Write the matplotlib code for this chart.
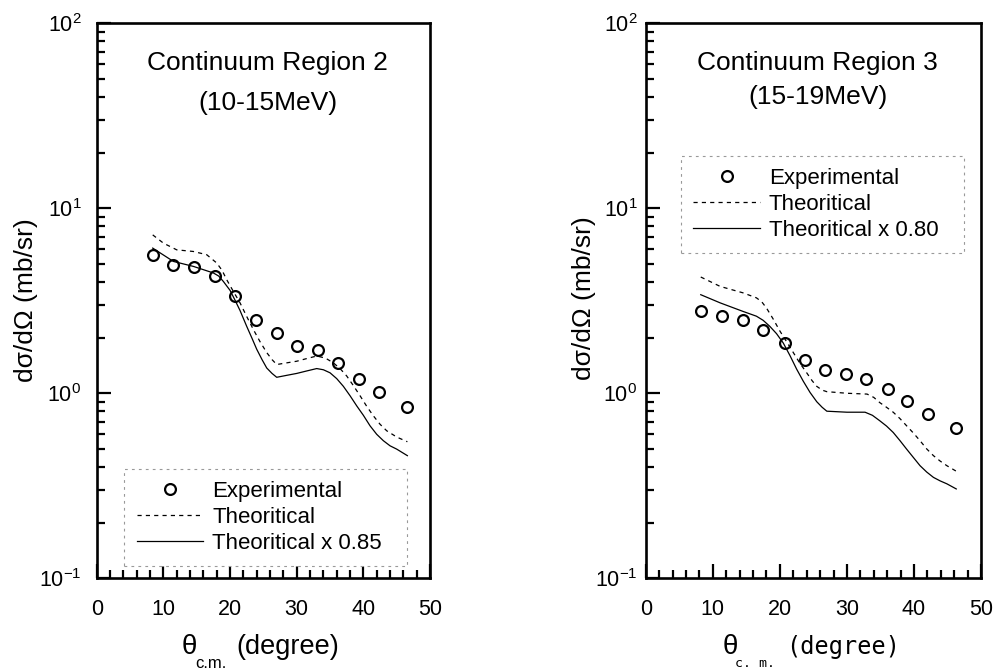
import matplotlib
matplotlib.use("Agg")
import matplotlib.pyplot as plt
from matplotlib.ticker import MultipleLocator, LogLocator, NullFormatter

plt.rcParams['font.family'] = ['Liberation Sans', 'DejaVu Sans']
plt.rcParams['mathtext.fontset'] = 'custom'
plt.rcParams['mathtext.rm'] = 'Liberation Sans'
plt.rcParams['axes.unicode_minus'] = False
plt.rcParams['lines.scale_dashes'] = False

# --- Region 2 (10-15 MeV) ---
theta_exp2 = [8.4, 11.5, 14.6, 17.7, 20.8, 23.9, 27.0, 30.1, 33.2, 36.2, 39.3, 42.4, 46.6]
exp2 = [5.56, 4.95, 4.81, 4.31, 3.34, 2.50, 2.13, 1.79, 1.71, 1.46, 1.20, 1.02, 0.84]

theta_th2 = [8.4, 10.0, 12.0, 14.5, 16.5, 18.0, 18.8, 19.5, 20.5, 21.5, 22.5, 23.5,
             24.5, 25.5, 26.3, 27.0, 28.5, 30.0, 31.5, 33.0, 34.3, 35.5, 36.5,
             37.5, 38.5, 39.5, 40.5, 41.5, 42.5, 43.5, 45.0, 46.6]
th2 = [7.18, 6.48, 5.96, 5.84, 5.61, 5.06, 4.62, 4.11, 3.55, 3.08, 2.60, 2.21,
       1.90, 1.66, 1.52, 1.43, 1.46, 1.49, 1.54, 1.59, 1.55, 1.46, 1.36,
       1.24, 1.10, 0.97, 0.85, 0.755, 0.68, 0.627, 0.58, 0.547]

theta_sc2 = [8.4, 11.5, 14.5, 17.5, 18.3, 19.0, 20.0, 20.7, 21.5, 22.5, 23.3, 24.0,
             24.8, 25.5, 26.3, 27.0, 28.5, 30.0, 31.5, 33.0, 34.0, 35.0, 36.0,
             37.0, 38.0, 39.0, 40.0, 41.0, 42.0, 43.0, 44.0, 45.0, 46.6]
sc2 = [6.09, 5.16, 4.85, 4.47, 4.30, 4.02, 3.60, 3.21, 2.80, 2.30, 1.98, 1.73,
       1.52, 1.37, 1.28, 1.22, 1.25, 1.28, 1.32, 1.36, 1.34, 1.29, 1.20,
       1.09, 0.97, 0.855, 0.76, 0.667, 0.60, 0.554, 0.52, 0.499, 0.46]

# --- Region 3 (15-19 MeV) ---
theta_exp3 = [8.2, 11.4, 14.5, 17.5, 20.7, 23.7, 26.8, 29.9, 32.9, 36.1, 39.0, 42.1, 46.2]
exp3 = [2.80, 2.61, 2.50, 2.21, 1.87, 1.51, 1.33, 1.27, 1.19, 1.06, 0.91, 0.77, 0.65]

theta_th3 = [8.2, 11.1, 14.5, 16.5, 17.3, 18.0, 19.0, 20.0, 21.0, 22.0, 23.0, 24.0,
             24.8, 25.5, 26.3, 27.0, 30.0, 33.0, 34.0, 34.9, 35.9, 36.9, 37.9,
             38.9, 39.9, 40.9, 41.9, 42.9, 43.9, 44.9, 46.3]
th3 = [4.25, 3.78, 3.49, 3.28, 3.12, 2.89, 2.52, 2.17, 1.90, 1.66, 1.45, 1.29,
       1.17, 1.09, 1.04, 1.02, 1.00, 0.99, 0.95, 0.89, 0.84, 0.79, 0.73,
       0.667, 0.61, 0.554, 0.50, 0.46, 0.43, 0.406, 0.379]

theta_sc3 = [8.2, 11.1, 14.5, 16.5, 17.5, 18.5, 19.5, 20.5, 21.5, 22.5, 23.5, 24.5,
             25.5, 26.3, 27.0, 30.0, 32.7, 33.8, 34.9, 35.9, 36.9, 37.9, 38.9,
             39.9, 40.9, 41.9, 42.9, 43.9, 44.9, 46.3]
sc3 = [3.41, 3.08, 2.77, 2.61, 2.48, 2.30, 2.10, 1.87, 1.60, 1.35, 1.16, 1.01,
       0.90, 0.84, 0.80, 0.79, 0.79, 0.76, 0.71, 0.665, 0.614, 0.555, 0.499,
       0.45, 0.406, 0.375, 0.351, 0.336, 0.324, 0.304]

titles = [("Continuum Region 2", "(10-15MeV)"), ("Continuum Region 3", "(15-19MeV)")]
labels_sc = ["Theoritical x 0.85", "Theoritical x 0.80"]


def painel(ax, th_e, y_e, th_t, y_t, th_s, y_s, titulo, lab_s, leg_box, sub_y, ypad):
    ax.plot(th_t, y_t, color='black', lw=0.9, dashes=(3, 3), label="Theoritical")
    ax.plot(th_s, y_s, color='black', lw=0.9, label=lab_s)
    ax.plot(th_e, y_e, 'o', ms=7.8, mfc='none', mec='black', mew=1.6,
            label="Experimental", zorder=5)

    ax.set_yscale('log')
    ax.set_ylim(0.1, 100)
    ax.set_xlim(0, 50)
    ax.xaxis.set_major_locator(MultipleLocator(10))
    ax.xaxis.set_minor_locator(MultipleLocator(2))
    ax.yaxis.set_major_locator(LogLocator(base=10))
    ax.yaxis.set_minor_locator(LogLocator(base=10, subs=range(2, 10)))
    ax.yaxis.set_minor_formatter(NullFormatter())
    ax.tick_params(which='both', direction='in', top=False, right=False,
                   width=1.6, labelsize=15.5)
    ax.tick_params(which='major', length=10)
    ax.tick_params(which='minor', length=6)
    ax.tick_params(axis='x', pad=15)
    ax.tick_params(axis='y', pad=ypad)
    for s in ax.spines.values():
        s.set_linewidth(1.9)

    ax.text(0.513, 0.916, titulo[0], transform=ax.transAxes, ha='center',
            va='baseline', fontsize=19)
    ax.text(0.513, sub_y, titulo[1], transform=ax.transAxes, ha='center',
            va='baseline', fontsize=19)

    h, l = ax.get_legend_handles_labels()
    ordem = [2, 0, 1]
    leg = ax.legend([h[i] for i in ordem], [l[i] for i in ordem],
                    loc='lower left', bbox_to_anchor=leg_box, mode='expand',
                    borderaxespad=0, fontsize=16, handlelength=3.0,
                    handletextpad=0.4, labelspacing=0.22, borderpad=0.55,
                    fancybox=False, framealpha=1)
    fr = leg.get_frame()
    fr.set_edgecolor('#999999')
    fr.set_linewidth(0.8)
    fr.set_linestyle((0, (2, 3)))

    ax.set_ylabel("dσ/dΩ (mb/sr)", fontsize=19)


fig = plt.figure(figsize=(9.95, 6.7), dpi=100)
ax1 = fig.add_axes([0.0972, 0.1369, 0.335, 0.8284])
ax2 = fig.add_axes([0.649, 0.1369, 0.337, 0.8284])

painel(ax1, theta_exp2, exp2, theta_th2, th2, theta_sc2, sc2, titles[0],
       labels_sc[0], (0.083, 0.022, 0.849, 0.186), 0.844, 11)
painel(ax2, theta_exp3, exp3, theta_th3, th3, theta_sc3, sc3, titles[1],
       labels_sc[1], (0.105, 0.586, 0.845, 0.186), 0.855, 6)

ax1.yaxis.set_label_coords(-0.176, 0.501)
ax2.yaxis.set_label_coords(-0.148, 0.505)

# rotulo do eixo x montado em pedacos (theta + subscrito + unidade)
ax1.text(0.277, -0.123, "θ", transform=ax1.transAxes, ha='center', va='center', fontsize=20)
ax1.text(0.343, -0.153, "c.m.", transform=ax1.transAxes, ha='center', va='center', fontsize=12)
ax1.text(0.572, -0.123, "(degree)", transform=ax1.transAxes, ha='center', va='center', fontsize=19.5)

ax2.text(0.252, -0.123, "θ", transform=ax2.transAxes, ha='center', va='center', fontsize=20)
ax2.text(0.327, -0.153, "c. m.", transform=ax2.transAxes, ha='center', va='center',
         fontsize=9.5, family='DejaVu Sans Mono')
ax2.text(0.590, -0.123, "(degree)", transform=ax2.transAxes, ha='center', va='center',
         fontsize=17, family='DejaVu Sans Mono')

fig.savefig("out.png", dpi=100)
